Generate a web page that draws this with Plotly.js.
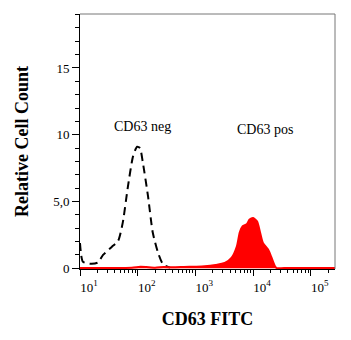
<!DOCTYPE html>
<html>
<head>
<meta charset="utf-8">
<script src="https://cdn.plot.ly/plotly-3.0.1.min.js"></script>
<style>html,body{margin:0;padding:0;background:#fff;}#chart{width:351px;height:340px;}</style>
</head>
<body>
<div id="chart"></div>
<script>
// CD63 negative control (dashed)
const negX = [10, 11.2, 14.8, 20.4, 25.1, 35.5, 45.7, 55, 67.6, 83.2, 97.7, 109.6, 123, 151, 182, 224, 275, 363];
const negY = [1.9, 0.5, 0.35, 0.43, 1.0, 1.6, 2.05, 3.4, 6.1, 8.4, 9.1, 9.0, 7.9, 5.4, 2.7, 1.2, 0.3, 0.05];
// CD63 positive (red filled)
const posX = [10, 31.6, 79, 112, 141, 200, 282, 398, 631, 1000, 1445, 2239, 3236, 4266, 5248, 5888, 6607, 7762, 8710, 10000, 11749, 13183, 14791, 18197, 20893, 23988, 25704, 39811, 100000, 263027];
const posY = [0.02, 0.03, 0.05, 0.12, 0.1, 0.05, 0.1, 0.08, 0.1, 0.12, 0.15, 0.25, 0.4, 0.8, 1.65, 2.7, 3.15, 3.3, 3.65, 3.77, 3.5, 2.7, 1.9, 1.4, 0.8, 0.15, 0.02, 0.03, 0.02, 0.02];
const yTickVals = [0, 5, 10, 15];
const yTickText = ['0', '5,0', '10', '15'];
const xTickVals = [10, 100, 1000, 10000, 100000];
const xTickText = ['10<sup>1</sup>', '10<sup>2</sup>', '10<sup>3</sup>', '10<sup>4</sup>', '10<sup>5</sup>'];
const labels = ['CD63 neg', 'CD63 pos'];
const xTitle = 'CD63 FITC';
const yTitle = 'Relative Cell Count';

const serif = 'Liberation Serif, Times New Roman, serif';

const traces = [
  {x: negX, y: negY, type: 'scatter', mode: 'lines', line: {color: '#000', width: 2, dash: '8px,5px', shape: 'spline', smoothing: 0.6}, hoverinfo: 'none'},
  {x: posX, y: posY, type: 'scatter', mode: 'lines', fill: 'tozeroy', fillcolor: '#ff0000', line: {color: '#ff0000', width: 2, shape: 'spline', smoothing: 0.6}, hoverinfo: 'none'}
];

const layout = {
  width: 351, height: 340,
  margin: {l: 80, r: 16, t: 14, b: 71},
  paper_bgcolor: '#fff', plot_bgcolor: '#fff',
  showlegend: false,
  font: {family: serif, color: '#000'},
  xaxis: {
    type: 'log', range: [1, 5.42],
    showgrid: false, zeroline: false,
    showline: true, linecolor: '#000', linewidth: 1,
    ticks: 'outside', ticklen: 6, tickcolor: '#000', tickwidth: 1,
    tickvals: xTickVals, ticktext: xTickText,
    ticklabelshift: 9,
    tickfont: {family: serif, size: 13, color: '#000'},
    minor: {ticks: 'outside', ticklen: 3, tickcolor: '#000', dtick: 'D1', showgrid: false},
    title: {text: '<b>' + xTitle + '</b>', font: {family: serif, size: 18, color: '#000'}, standoff: 18}
  },
  yaxis: {
    range: [-0.05, 19.04],
    showgrid: false, zeroline: false,
    showline: true, linecolor: '#000', linewidth: 1,
    ticks: 'outside', ticklen: 7, tickcolor: '#000', tickwidth: 1,
    tickvals: yTickVals, ticktext: yTickText,
    tickfont: {family: serif, size: 13, color: '#000'},
    minor: {ticks: 'outside', ticklen: 4, tickcolor: '#000', dtick: 1, showgrid: false},
    title: {text: '<b>' + yTitle + '</b>', font: {family: serif, size: 18, color: '#000'}, standoff: 19}
  },
  shapes: [
    {type: 'line', xref: 'paper', yref: 'paper', x0: 0, x1: 1, y0: 1, y1: 1, line: {color: '#777', width: 1}},
    {type: 'line', xref: 'paper', yref: 'paper', x0: 1, x1: 1, y0: 0, y1: 1, line: {color: '#777', width: 1}}
  ],
  annotations: [
    {x: 2.09, y: 10.65, xref: 'x', yref: 'y', text: labels[0], showarrow: false, font: {family: serif, size: 14, color: '#000'}},
    {x: 4.2, y: 10.4, xref: 'x', yref: 'y', text: labels[1], showarrow: false, font: {family: serif, size: 14, color: '#000'}}
  ]
};

Plotly.newPlot('chart', traces, layout, {displayModeBar: false, staticPlot: true});
</script>
</body>
</html>
